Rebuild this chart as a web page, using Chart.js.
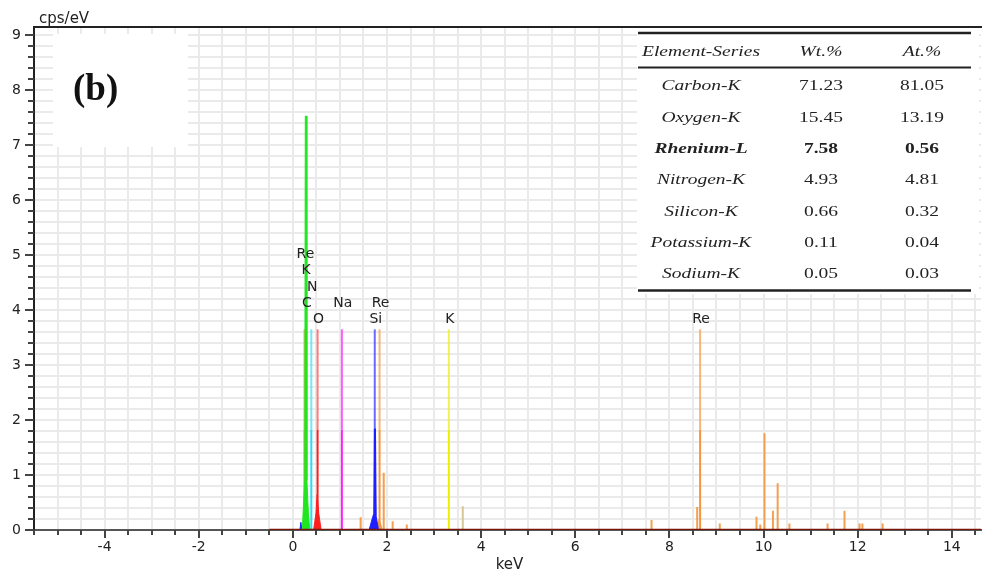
<!DOCTYPE html>
<html><head><meta charset="utf-8">
<script src="https://cdn.jsdelivr.net/npm/chart.js@4.4.1/dist/chart.umd.min.js"></script>
<style>html,body{margin:0;padding:0;background:#fff;overflow:hidden}</style>
</head><body>
<canvas id="c" width="982" height="585"></canvas>
<script>
// ---------- DATA ----------
const xTickLabels = ['-4','-2','0','2','4','6','8','10','12','14'];
const yTickLabels = ['0','1','2','3','4','5','6','7','8','9'];
const xRange = [-5.5, 14.62];
const yRange = [0, 9.15];
const xStep = 0.5;
const yStep = 0.2;

// element identification lines
const markerElements = ['Re','K','C','N','O','Na','Si','Re','K','Re'];
const markerEnergies = [0.245, 0.262, 0.277, 0.392, 0.525, 1.041, 1.740, 1.842, 3.313, 8.652];
const markerHeight = 3.65;
const markerLabelRows = [4, 3, 1, 2, 0, 1, 0, 1, 0, 0];

// spectrum pieces (keV, cps/eV)
const baselineE = [-0.5, 14.62];
const baselineI = [0, 0];
const cSpecE = [0.20, 0.225, 0.252, 0.264, 0.288, 0.298, 0.33, 0.36];
const cSpecI = [0, 0.45, 0.9, 7.53, 7.53, 0.9, 0.3, 0];
const kSpecE = [0.29, 0.31, 0.33];
const kSpecI = [0, 0.5, 0];
const lowSpecE = [0.15, 0.17, 0.19];
const lowSpecI = [0, 0.14, 0];
const oSpecE = [0.44, 0.49, 0.515, 0.53, 0.55, 0.60];
const oSpecI = [0, 0.3, 0.64, 0.64, 0.3, 0];
const siSpecE = [1.62, 1.69, 1.72, 1.735, 1.755, 1.77, 1.82];
const siSpecI = [0, 0.22, 0.3, 1.84, 1.84, 0.25, 0];
const reBumpE = [1.79, 1.83, 1.86, 1.90];
const reBumpI = [0, 0.2, 0.12, 0];
const reLineE = [1.44, 1.93, 2.12, 2.42, 7.62, 8.59, 9.07, 9.85, 9.93, 10.02, 10.20, 10.30, 10.55, 11.36, 11.72, 12.04, 12.10, 12.53];
const reLineI = [0.23, 1.04, 0.16, 0.10, 0.18, 0.42, 0.12, 0.24, 0.10, 1.76, 0.35, 0.85, 0.12, 0.12, 0.35, 0.12, 0.12, 0.12];
const kLineE = [3.61];
const kLineI = [0.43];

// inset table
const tableHeader = ['Element-Series', 'Wt.%', 'At.%'];
const tableElements = ['Carbon-K', 'Oxygen-K', 'Rhenium-L', 'Nitrogen-K', 'Silicon-K', 'Potassium-K', 'Sodium-K'];
const tableWt = ['71.23', '15.45', '7.58', '4.93', '0.66', '0.11', '0.05'];
const tableAt = ['81.05', '13.19', '0.56', '4.81', '0.32', '0.04', '0.03'];
const tableBoldRow = 'Rhenium-L';
const panelLabel = '(b)';
const yTitle = 'cps/eV';
const xTitle = 'keV';

// ---------- STYLE ----------
const elColor = {
  Re: ['rgba(243,150,60,1)', 'rgba(245,165,90,0.8)'],
  K:  ['rgba(238,238,0,1)', 'rgba(238,238,40,0.8)'],
  C:  ['rgba(32,224,32,1)', 'rgba(60,230,60,0.8)'],
  N:  ['rgba(40,220,240,1)', 'rgba(80,225,240,0.8)'],
  O:  ['rgba(255,30,30,1)', 'rgba(255,80,80,0.75)'],
  Na: ['rgba(255,30,255,1)', 'rgba(255,60,255,0.85)'],
  Si: ['rgba(30,30,255,1)', 'rgba(70,70,255,0.8)']
};
const toPts = (xs, ys) => xs.map((x, i) => ({x, y: ys[i]}));
const spikes = (xs, ys) => { const p = []; xs.forEach((x, i) => { p.push({x, y: 0}, {x, y: ys[i]}, {x, y: 0}); }); return p; };

const datasets = [];
datasets.push({data: toPts(baselineE, baselineI), borderColor: '#7a1608', borderWidth: 2.5, fill: false});
function area(xs, ys, col) {
  datasets.push({data: toPts(xs, ys), borderColor: col, backgroundColor: col, borderWidth: 1, fill: 'origin'});
}
area(cSpecE, cSpecI, 'rgb(32,230,32)');
area(kSpecE, kSpecI, 'rgb(238,238,0)');
area(lowSpecE, lowSpecI, 'rgb(30,30,255)');
area(oSpecE, oSpecI, 'rgb(255,30,30)');
area(siSpecE, siSpecI, 'rgb(30,30,255)');
area(reBumpE, reBumpI, 'rgba(243,150,60,0.9)');
markerElements.forEach((el, i) => {
  const e = markerEnergies[i];
  const [solid, light] = elColor[el];
  datasets.push({
    data: [{x: e, y: 0}, {x: e, y: markerHeight / 2}, {x: e, y: markerHeight}],
    borderColor: solid, borderWidth: 2, fill: false,
    segment: {borderColor: c => c.p0.parsed.y < markerHeight / 4 ? solid : light}
  });
});
datasets.push({data: spikes(reLineE, reLineI), borderColor: 'rgba(243,150,60,0.9)', borderWidth: 2, fill: false});
datasets.push({data: spikes(kLineE, kLineI), borderColor: 'rgba(215,200,150,1)', borderWidth: 2, fill: false});

const isLabel = (v, list) => list.includes(String(Math.round(v))) && Math.abs(v - Math.round(v)) < 1e-6;
const stepTicks = (lo, hi, step) => {
  const out = [];
  const n = Math.floor((hi - lo) / step + 1e-9);
  for (let i = 0; i <= n; i++) out.push({value: Math.round((lo + i * step) * 1000) / 1000});
  return out;
};

const decor = {
  id: 'decor',
  afterDraw(chart) {
    const {ctx, chartArea: a, scales: {x, y}} = chart;
    ctx.save();
    // top frame line
    ctx.strokeStyle = '#222'; ctx.lineWidth = 2;
    ctx.beginPath(); ctx.moveTo(a.left, a.top); ctx.lineTo(982, a.top); ctx.stroke();
    // ticks
    ctx.strokeStyle = '#444'; ctx.lineWidth = 2;
    x.ticks.forEach(t => {
      const px = Math.round(x.getPixelForValue(t.value));
      const len = isLabel(t.value, xTickLabels) ? 8 : 5;
      ctx.beginPath(); ctx.moveTo(px, a.bottom); ctx.lineTo(px, a.bottom + len); ctx.stroke();
    });
    y.ticks.forEach(t => {
      const py = Math.round(y.getPixelForValue(t.value));
      const len = isLabel(t.value, yTickLabels) ? 9 : 6;
      ctx.beginPath(); ctx.moveTo(a.left, py); ctx.lineTo(a.left - len, py); ctx.stroke();
    });
    // axis titles
    ctx.fillStyle = '#222';
    ctx.font = '15px "DejaVu Sans"';
    ctx.textBaseline = 'middle';
    ctx.textAlign = 'left';
    ctx.fillText(yTitle, 39, 19);
    ctx.textAlign = 'center';
    ctx.fillText(xTitle, (a.left + a.right) / 2 + 2, 565);
    // element labels
    ctx.font = '14px "DejaVu Sans"';
    const topPx = y.getPixelForValue(markerHeight);
    markerElements.forEach((el, i) => {
      const px = x.getPixelForValue(markerEnergies[i]) + 1;
      ctx.fillText(el, px, topPx - 10 - markerLabelRows[i] * 16.2);
    });
    // panel label box
    ctx.fillStyle = '#fff';
    ctx.fillRect(53, 34, 135, 113);
    ctx.fillStyle = '#111';
    ctx.font = 'bold 37px "Liberation Serif"';
    ctx.textAlign = 'left';
    ctx.fillText(panelLabel, 73, 90);
    // table
    ctx.fillStyle = '#fff';
    ctx.fillRect(637, 28, 342, 266);
    ctx.strokeStyle = '#222';
    ctx.lineWidth = 2.5;
    ctx.beginPath(); ctx.moveTo(638, 33); ctx.lineTo(971, 33); ctx.stroke();
    ctx.lineWidth = 2;
    ctx.beginPath(); ctx.moveTo(638, 67.5); ctx.lineTo(971, 67.5); ctx.stroke();
    ctx.lineWidth = 2.5;
    ctx.beginPath(); ctx.moveTo(638, 290.5); ctx.lineTo(971, 290.5); ctx.stroke();
    const cols = [701, 821, 922];
    const txt = (s, cx, cy, style) => {
      ctx.save();
      ctx.translate(cx, cy); ctx.scale(1.3, 1);
      ctx.font = style + ' 15px "Liberation Serif"';
      ctx.textAlign = 'center'; ctx.textBaseline = 'middle';
      ctx.fillText(s, 0, 0);
      ctx.restore();
    };
    ctx.fillStyle = '#222';
    tableHeader.forEach((h, i) => txt(h, cols[i], 52, 'italic'));
    tableElements.forEach((el, r) => {
      const cy = 86.5 + r * 31.3;
      const b = el === tableBoldRow;
      txt(el, cols[0], cy, b ? 'italic bold' : 'italic');
      txt(tableWt[r], cols[1], cy, b ? 'bold' : 'normal');
      txt(tableAt[r], cols[2], cy, b ? 'bold' : 'normal');
    });
    ctx.restore();
  }
};

new Chart(document.getElementById('c'), {
  type: 'scatter',
  data: {datasets: datasets.map(d => Object.assign({showLine: true, pointRadius: 0, pointHoverRadius: 0, tension: 0}, d))},
  options: {
    responsive: false, animation: false, devicePixelRatio: 1,
    layout: {padding: {top: 27, right: 1, left: 0, bottom: 0}},
    plugins: {legend: {display: false}, tooltip: {enabled: false}},
    scales: {
      x: {
        type: 'linear', min: xRange[0], max: xRange[1],
        afterBuildTicks: s => { s.ticks = stepTicks(xRange[0], xRange[1], xStep); },
        afterFit: s => { s.height = 55; s.paddingLeft = 0; s.paddingRight = 0; },
        grid: {color: '#eaeaea', lineWidth: 2, drawTicks: false},
        border: {color: '#555', width: 2},
        ticks: {padding: 9, color: '#222', font: {family: 'DejaVu Sans', size: 14},
          autoSkip: false, maxRotation: 0,
          callback: v => isLabel(v, xTickLabels) ? String(Math.round(v)) : ''}
      },
      y: {
        type: 'linear', min: yRange[0], max: yRange[1],
        afterBuildTicks: s => { s.ticks = stepTicks(yRange[0], 9.0, yStep); },
        afterFit: s => { s.width = 34; s.paddingTop = 0; s.paddingBottom = 0; },
        grid: {color: '#eaeaea', lineWidth: 2, drawTicks: false},
        border: {color: '#222', width: 2},
        ticks: {padding: 13, color: '#222', font: {family: 'DejaVu Sans', size: 14},
          autoSkip: false,
          callback: v => isLabel(v, yTickLabels) ? String(Math.round(v)) : ''}
      }
    }
  },
  plugins: [decor]
});
</script>
</body></html>
